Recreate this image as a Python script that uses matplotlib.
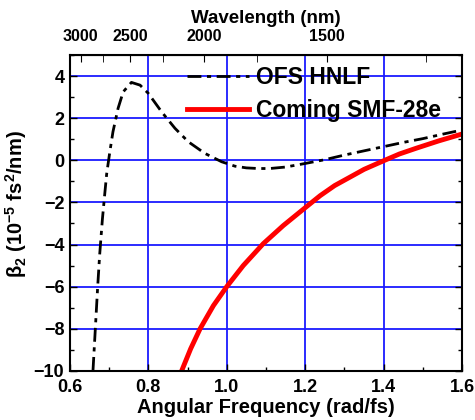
import numpy as np
import matplotlib
matplotlib.use("Agg")
import matplotlib.pyplot as plt
from matplotlib.ticker import MultipleLocator

plt.rcParams['font.family'] = ['Liberation Sans', 'DejaVu Sans']
plt.rcParams['font.weight'] = 'bold'
plt.rcParams['mathtext.fontset'] = 'custom'
plt.rcParams['mathtext.rm'] = 'Liberation Sans:bold'
plt.rcParams['mathtext.bf'] = 'Liberation Sans:bold'

# OFS HNLF dispersion
hnlf_omega = [0.659, 0.665, 0.671, 0.676, 0.683, 0.689, 0.694, 0.702, 0.710, 0.723,
              0.736, 0.757, 0.779, 0.800, 0.834, 0.868, 0.902, 0.944, 0.987, 1.021,
              1.050, 1.080, 1.110, 1.150, 1.200, 1.250, 1.300, 1.350, 1.400, 1.450,
              1.500, 1.550, 1.600]
hnlf_beta = [-10.0, -8.0, -6.0, -4.5, -2.8, -1.6, -0.63, 0.41, 1.36, 2.47,
             3.25, 3.70, 3.57, 3.18, 2.30, 1.52, 0.88, 0.33, -0.07, -0.28,
             -0.36, -0.39, -0.39, -0.32, -0.15, 0.03, 0.25, 0.45, 0.65, 0.85,
             1.03, 1.24, 1.44]

# Corning SMF-28e dispersion
smf_omega = [0.885, 0.908, 0.932, 0.966, 1.000, 1.042, 1.093, 1.144, 1.200, 1.238,
             1.275, 1.314, 1.350, 1.400, 1.440, 1.484, 1.540, 1.600]
smf_beta = [-10.0, -8.95, -8.0, -6.9, -6.0, -5.0, -3.96, -3.1, -2.25, -1.68,
            -1.2, -0.8, -0.43, -0.02, 0.30, 0.58, 0.92, 1.25]

wl_major = [3000, 2500, 2000, 1500]
wl_minor = [2750, 2250, 1750, 1250]

C_NM_FS = 299.792458


def to_wl(w):
    w = np.asarray(w, dtype=float)
    with np.errstate(divide='ignore'):
        return 2 * np.pi * C_NM_FS / w


fig = plt.figure(figsize=(4.75, 4.2), dpi=100)
ax = fig.add_axes([0.147, 0.117, 0.826, 0.752])

ax.plot(hnlf_omega, hnlf_beta, color='black', lw=2.0,
        linestyle=(0, (5, 2, 1.5, 2)), label='OFS HNLF')
ax.plot(smf_omega, smf_beta, color='red', lw=3.5, label='Coming SMF-28e')

ax.set_xlim(0.6, 1.6)
ax.set_ylim(-10, 5)
ax.xaxis.set_minor_locator(MultipleLocator(0.1))
ax.yaxis.set_minor_locator(MultipleLocator(1))
ax.set_yticks([-10, -8, -6, -4, -2, 0, 2, 4])
ax.set_xticks([0.6, 0.8, 1.0, 1.2, 1.4, 1.6])
ax.set_xticklabels(['0.6', '0.8', '1.0', '1.2', '1.4', '1.6'])
ax.grid(True, which='major', color='#1a1aff', lw=1.3)
ax.set_axisbelow(True)
ax.tick_params(which='both', direction='in', top=False, right=True,
               labelsize=13, width=1.0)
ax.tick_params(which='major', length=5)
ax.tick_params(axis='x', which='major', pad=6)
ax.tick_params(axis='y', which='major', pad=4)
ax.tick_params(which='minor', length=3)
for sp in ax.spines.values():
    sp.set_linewidth(1.5)

ax.set_xlabel('Angular Frequency (rad/fs)', fontsize=14.5, fontweight='bold', labelpad=1)
ax.set_ylabel('β$_2$ (10$^{-5}$ fs$^2$/nm)', fontsize=14.5, fontweight='bold')
ax.yaxis.set_label_coords(-0.105, 0.528)

sec = ax.secondary_xaxis('top', functions=(to_wl, to_wl))
sec.set_xticks(wl_major)
sec.set_xticks(wl_minor, minor=True)
sec.set_xticklabels([str(v) for v in wl_major])
sec.tick_params(which='both', direction='in', labelsize=11.5, pad=8)
sec.tick_params(which='major', length=5)
sec.tick_params(which='minor', length=5)
sec.set_xlabel('Wavelength (nm)', fontsize=13.5, fontweight='bold', labelpad=4)

leg = ax.legend(loc='upper right', bbox_to_anchor=(0.945, 0.965), frameon=False,
                fontsize=16.5, handlelength=2.7, handletextpad=0.3,
                labelspacing=0.45, borderaxespad=0.0, borderpad=0.0)

fig.savefig('out.png', dpi=100)
